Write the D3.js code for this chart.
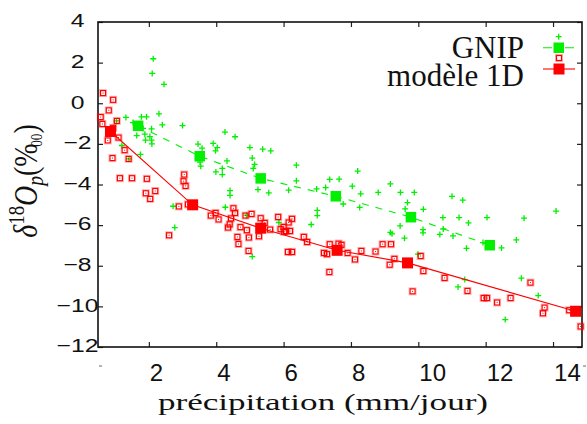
<!DOCTYPE html>
<html>
<head>
<meta charset="utf-8">
<script src="https://cdn.jsdelivr.net/npm/d3@7"></script>
<style>
  body { margin: 0; background: #fff; }
  svg { display: block; }
</style>
</head>
<body>
<div id="chart"></div>
<script>
// scatter: GNIP stations [precip, d18O]
const gnipPoints = [
  [2.13, 2.19], [2.10, 1.47], [2.45, 0.93], [2.30, -0.52], [1.32, -0.70], [1.78, -0.67], [1.93, -0.67], [2.40, -1.06], [3.00, -1.10], [2.08, -1.26],
  [1.53, -0.95], [1.83, -1.24], [1.64, -1.59], [1.88, -1.52], [2.03, -1.64], [2.08, -1.82], [1.90, -1.82], [2.09, -2.00], [1.20, -2.08], [1.41, -2.74],
  [1.75, -2.52], [4.26, -1.42], [4.56, -1.65], [3.46, -2.01], [3.91, -1.98], [4.03, -2.18], [3.98, -2.34], [3.58, -2.21], [4.32, -2.84], [5.00, -2.18],
  [5.38, -2.26], [5.62, -2.34], [5.07, -2.70], [5.10, -3.21], [5.14, -3.01], [3.99, -3.38], [4.18, -3.21], [4.18, -3.51], [3.54, -3.10], [3.52, -2.90],
  [4.41, -4.30], [4.41, -4.54], [5.24, -4.25], [5.56, -4.41], [6.15, -4.28], [4.27, -5.12], [2.72, -5.07], [6.38, -3.05], [6.38, -3.82], [8.20, -3.34],
  [7.37, -3.75], [7.65, -3.74], [6.98, -4.22], [7.25, -4.15], [8.04, -4.08], [8.29, -4.46], [7.77, -4.96], [8.26, -5.13], [7.00, -5.27], [7.00, -5.53],
  [6.82, -5.97], [8.81, -4.39], [9.17, -3.97], [9.47, -4.39], [9.88, -4.39], [9.68, -4.89], [9.61, -5.20], [10.15, -5.22], [11.00, -4.58], [11.32, -4.77],
  [10.73, -5.63], [11.21, -5.63], [11.49, -5.89], [10.74, -6.19], [11.03, -6.53], [10.64, -6.46], [11.43, -7.14], [9.46, -6.04], [9.17, -6.36], [9.22, -6.43],
  [9.59, -6.64], [10.14, -6.22], [10.14, -6.38], [9.99, -7.43], [11.38, -8.68], [11.18, -9.04], [12.04, -5.63], [13.14, -5.66], [14.09, -5.31], [12.91, -6.73],
  [12.47, -7.12], [11.92, -6.86], [13.06, -8.61], [13.56, -9.47], [12.58, -10.65], [2.77, -6.12], [4.90, -5.51], [5.86, -5.87], [5.07, -7.55], [1.04, -0.87]
]

// scatter: 1D model
const modelPoints = [
  [0.64, 0.50], [0.94, 0.17], [0.81, -0.35], [0.57, -0.68], [0.62, -1.02], [1.05, -0.87], [0.94, -1.21], [0.78, -1.83], [1.10, -1.69], [1.28, -2.31],
  [0.92, -2.70], [1.40, -2.74], [1.14, -3.69], [1.50, -3.69], [1.94, -3.72], [1.91, -4.43], [2.19, -4.32], [2.04, -4.71], [3.05, -3.51], [3.03, -3.84],
  [3.09, -4.07], [2.89, -5.08], [3.16, -4.98], [3.84, -5.53], [3.98, -5.40], [4.07, -5.72], [4.51, -5.17], [4.56, -5.40], [4.87, -5.53], [5.05, -5.45],
  [5.32, -5.66], [5.84, -5.60], [4.44, -5.67], [2.60, -6.50], [4.40, -5.96], [4.35, -6.12], [4.72, -6.10], [4.91, -6.25], [4.63, -6.58], [4.66, -6.93],
  [4.97, -6.61], [4.96, -7.27], [5.44, -5.89], [5.60, -6.22], [5.27, -6.55], [5.91, -6.20], [6.00, -6.09], [6.02, -6.33], [6.25, -5.69], [6.15, -5.87],
  [6.07, -6.29], [6.19, -6.29], [6.60, -6.58], [6.70, -6.83], [6.13, -7.32], [6.25, -7.32], [7.37, -6.94], [7.63, -6.91], [7.72, -6.97], [7.20, -7.37],
  [7.29, -7.43], [7.90, -7.37], [8.31, -7.27], [8.73, -7.30], [8.94, -6.94], [9.19, -6.94], [8.12, -7.69], [7.36, -8.31], [9.29, -7.66], [9.15, -7.95],
  [10.07, -7.52], [10.15, -8.26], [10.78, -8.60], [9.83, -9.26], [11.46, -9.24], [11.94, -9.59], [12.04, -9.59], [12.34, -9.81], [12.74, -9.59], [13.33, -8.83],
  [13.75, -10.06], [13.70, -10.34], [14.48, -10.19], [14.82, -10.99]
]

// binned means
const gnipMeanX = [1.68, 3.51, 5.32, 7.55, 9.78, 12.12]
const gnipMeanY = [-1.11, -2.61, -3.70, -4.58, -5.61, -6.99]
const modelMeanX = [0.86, 3.30, 5.32, 7.59, 9.68, 14.67]
const modelMeanY = [-1.39, -5.00, -6.15, -7.24, -7.86, -10.24]

const xTicks = [2, 4, 6, 8, 10, 12, 14]
const yTicks = [-12, -10, -8, -6, -4, -2, 0, 2, 4]
const legendLabels = ['GNIP', 'modèle 1D']

const GREEN = '#00f000'
const RED = '#ff0000'

const margin = { top: 22, right: 5, bottom: 77, left: 98 }
const width = 587 - margin.left - margin.right
const height = 424 - margin.top - margin.bottom

const root = d3.select('#chart').append('svg')
  .attr('width', width + margin.left + margin.right)
  .attr('height', height + margin.top + margin.bottom)

const svg = root.append('g')
  .attr('transform', `translate(${margin.left},${margin.top})`)

const xScale = d3.scaleLinear().domain([0.49, 14.86]).range([0, width])
const yScale = d3.scaleLinear().domain([-12, 4]).range([height, 0])

// axes, inward ticks, mirrored
const xAxis = svg.append('g')
  .attr('transform', `translate(0,${height})`)
  .call(d3.axisBottom(xScale).tickValues(xTicks).tickSizeInner(-5).tickSizeOuter(0))
xAxis.select('.domain').remove()
xAxis.selectAll('text')
  .attr('x', 0.5).attr('y', 33.5).attr('dy', null)
  .style('text-anchor', 'start')
  .style('font-family', '"Liberation Sans", Arial, sans-serif')
  .style('font-size', '24px')
  .style('fill', '#111')

const xTop = svg.append('g')
  .call(d3.axisTop(xScale).tickValues(xTicks).tickSizeInner(-5).tickSizeOuter(0).tickFormat(''))
xTop.select('.domain').remove()

const yAxis = svg.append('g')
  .call(d3.axisLeft(yScale).tickValues(yTicks).tickSizeInner(-5).tickSizeOuter(0))
yAxis.select('.domain').remove()
yAxis.selectAll('text')
  .attr('x', 0).attr('dy', '0.25em')
  .attr('transform', 'translate(-20.5,0) scale(1.3,1)')
  .style('text-anchor', 'middle')
  .style('font-family', '"Liberation Sans", Arial, sans-serif')
  .style('font-size', '19px')
  .style('fill', '#111')

const yRight = svg.append('g')
  .attr('transform', `translate(${width},0)`)
  .call(d3.axisRight(yScale).tickValues(yTicks).tickSizeInner(-5).tickSizeOuter(0).tickFormat(''))
yRight.select('.domain').remove()

svg.selectAll('.tick line').attr('stroke', '#222').attr('stroke-width', 1.2)

// clipped leftovers of end labels
svg.selectAll('.stub')
  .data(xScale.domain())
  .enter()
  .append('line')
  .attr('class', 'stub')
  .attr('x1', d => xScale(d) + 1)
  .attr('x2', d => xScale(d) + 4)
  .attr('y1', 19).attr('y2', 19)
  .attr('transform', `translate(0,${height})`)
  .attr('stroke', '#666').attr('stroke-width', 1)

svg.append('rect')
  .attr('width', width).attr('height', height)
  .attr('fill', 'none').attr('stroke', '#111').attr('stroke-width', 1.6)

const plot = svg.append('g')

// GNIP scatter
plot.selectAll('.gnip')
  .data(gnipPoints)
  .enter()
  .append('path')
  .attr('class', 'gnip')
  .attr('transform', d => `translate(${xScale(d[0])},${yScale(d[1])})`)
  .attr('d', 'M-3,0H3M0,-3V3')
  .attr('stroke', GREEN).attr('stroke-width', 1.3).attr('fill', 'none')

const gnipMeans = gnipMeanX.map((x, i) => [x, gnipMeanY[i]])
const modelMeans = modelMeanX.map((x, i) => [x, modelMeanY[i]])
const line = d3.line().x(d => xScale(d[0])).y(d => yScale(d[1]))

plot.append('path')
  .datum(gnipMeans)
  .attr('d', line)
  .attr('fill', 'none').attr('stroke', GREEN).attr('stroke-width', 1.1)
  .attr('stroke-dasharray', '7,7')

plot.selectAll('.gnipMean')
  .data(gnipMeans)
  .enter()
  .append('rect')
  .attr('class', 'gnipMean')
  .attr('x', d => xScale(d[0]) - 5.25)
  .attr('y', d => yScale(d[1]) - 5.25)
  .attr('width', 10.5).attr('height', 10.5)
  .attr('fill', GREEN)

// model scatter: open squares with a soft halo and centre dot
const ms = plot.selectAll('.model')
  .data(modelPoints)
  .enter()
  .append('g')
  .attr('class', 'model')
  .attr('transform', d => `translate(${xScale(d[0])},${yScale(d[1])})`)
ms.append('rect')
  .attr('x', -3.5).attr('y', -3.5).attr('width', 7).attr('height', 7)
  .attr('fill', 'none').attr('stroke', RED).attr('stroke-opacity', 0.3).attr('stroke-width', 1)
ms.append('rect')
  .attr('x', -2.5).attr('y', -2.5).attr('width', 5).attr('height', 5)
  .attr('fill', 'none').attr('stroke', RED).attr('stroke-width', 1.2)
ms.append('rect')
  .attr('x', -0.5).attr('y', -0.5).attr('width', 1).attr('height', 1)
  .attr('fill', RED)

plot.append('path')
  .datum(modelMeans)
  .attr('d', line)
  .attr('fill', 'none').attr('stroke', RED).attr('stroke-width', 1.1)

plot.selectAll('.modelMean')
  .data(modelMeans)
  .enter()
  .append('rect')
  .attr('class', 'modelMean')
  .attr('x', d => xScale(d[0]) - 5.5)
  .attr('y', d => yScale(d[1]) - 5.5)
  .attr('width', 11).attr('height', 11)
  .attr('fill', RED)

// axis titles
const serif = '"Liberation Serif", "Times New Roman", serif'

root.append('text')
  .attr('x', 158).attr('y', 409.5)
  .attr('textLength', 330).attr('lengthAdjust', 'spacingAndGlyphs')
  .style('font-family', serif).style('font-size', '24px').style('fill', '#111')
  .text('précipitation (mm/jour)')

const yTitle = root.append('text')
  .attr('transform', 'translate(37,181) rotate(-90) scale(0.82,1)')
  .style('font-family', serif).style('font-size', '34px').style('fill', '#111')
  .style('text-anchor', 'middle')
yTitle.append('tspan').style('font-style', 'italic').text('δ')
yTitle.append('tspan').attr('dy', -13).style('font-size', '23px').text('18')
yTitle.append('tspan').attr('dy', 13).style('font-style', 'italic').text('O')
yTitle.append('tspan').attr('dy', 6).style('font-size', '24px').style('font-style', 'italic').text('p')
yTitle.append('tspan').attr('dy', -6).text('(%')
yTitle.append('tspan').attr('dy', 5).attr('dx', -4).style('font-size', '16px').text('00')
yTitle.append('tspan').attr('dy', -5).text(')')

// legend
const legend = root.append('g')
legend.selectAll('text')
  .data(legendLabels)
  .enter()
  .append('text')
  .attr('x', 524)
  .attr('y', (d, i) => 58 + i * 27.5)
  .style('text-anchor', 'end')
  .style('font-family', serif).style('font-size', '31px').style('fill', '#111')
  .text(d => d)

legend.append('path')
  .attr('transform', 'translate(558.7,36.7)')
  .attr('d', 'M-3,0H3M0,-3V3')
  .attr('stroke', GREEN).attr('stroke-width', 1.3)
legend.append('line')
  .attr('x1', 543).attr('x2', 575).attr('y1', 47.7).attr('y2', 47.7)
  .attr('stroke', GREEN).attr('stroke-width', 1.1).attr('stroke-dasharray', '9,13')
legend.append('rect')
  .attr('x', 553.5).attr('y', 42.5).attr('width', 10.5).attr('height', 10.5)
  .attr('fill', GREEN)

const lsq = legend.append('g').attr('transform', 'translate(559,58)')
lsq.append('rect').attr('x', -3.5).attr('y', -3.5).attr('width', 7).attr('height', 7)
  .attr('fill', 'none').attr('stroke', RED).attr('stroke-opacity', 0.3)
lsq.append('rect').attr('x', -2.5).attr('y', -2.5).attr('width', 5).attr('height', 5)
  .attr('fill', 'none').attr('stroke', RED).attr('stroke-width', 1.2)
legend.append('line')
  .attr('x1', 543).attr('x2', 575).attr('y1', 69).attr('y2', 69)
  .attr('stroke', RED).attr('stroke-width', 1.1)
legend.append('rect')
  .attr('x', 553.5).attr('y', 63.5).attr('width', 11).attr('height', 11)
  .attr('fill', RED)
</script>
</body>
</html>
